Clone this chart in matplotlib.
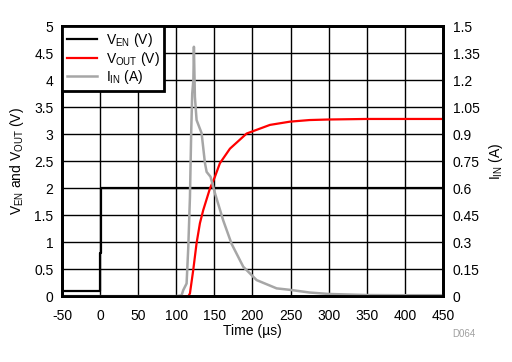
import numpy as np
import matplotlib.pyplot as plt

plt.rcParams['font.family'] = ['Liberation Sans', 'DejaVu Sans']
plt.rcParams['mathtext.fontset'] = 'custom'
plt.rcParams['mathtext.rm'] = 'Liberation Sans'
plt.rcParams['axes.unicode_minus'] = False

# V_EN (V)
t_en = [-50, 0, 0, 1, 1, 450]
v_en = [0.1, 0.1, 0.8, 0.8, 2.0, 2.0]

# V_OUT (V)
t_out = [-50, 0, 50, 100, 116, 118, 122.3, 126.7, 131.1, 135.4, 144.2, 150.8, 157.3,
         170.5, 192.4, 223, 249.2, 275, 300, 350, 400, 450]
v_out = [0.0, 0.0, 0.0, 0.0, 0.0, 0.05, 0.48, 0.98, 1.35, 1.59, 1.99, 2.21, 2.46,
         2.73, 3.01, 3.17, 3.23, 3.26, 3.27, 3.28, 3.28, 3.28]

# I_IN (A)
t_in = [-50, 0, 50, 100, 107, 109.2, 113.6, 115.8, 118, 119.7, 121, 122.5, 123.2, 124.5,
        126.7, 133.3, 137.7, 139.9, 145, 150.8, 161.7, 172.7, 188, 205.5, 231.8,
        249, 275, 300, 350, 400, 450]
i_in = [0.0, 0.0, 0.0, 0.0, 0.004, 0.033, 0.07, 0.27, 0.55, 0.92, 1.126, 1.2, 1.385, 1.107,
        0.978, 0.905, 0.739, 0.69, 0.663, 0.572, 0.42, 0.29, 0.163, 0.089, 0.043,
        0.035, 0.02, 0.012, 0.006, 0.005, 0.005]

x_ticks = ['-50', '0', '50', '100', '150', '200', '250', '300', '350', '400', '450']
y_ticks = ['0', '0.5', '1', '1.5', '2', '2.5', '3', '3.5', '4', '4.5', '5']
y2_ticks = ['0', '0.15', '0.3', '0.45', '0.6', '0.75', '0.9', '1.05', '1.2', '1.35', '1.5']

fig = plt.figure(figsize=(5.12, 3.62), dpi=100)
ax = fig.add_axes([0.121, 0.182, 0.744, 0.746])
ax2 = ax.twinx()

ax2.plot(t_in, i_in, color='#a6a6a6', lw=1.8, zorder=2)
ax.plot(t_en, v_en, color='black', lw=1.6, label=r'V$_{\mathregular{EN}}$ (V)', zorder=4)
ax.plot(t_out, v_out, color='#ff0000', lw=1.6, label=r'V$_{\mathregular{OUT}}$ (V)', zorder=4)
ax.plot([], [], color='#a6a6a6', lw=1.8, label=r'I$_{\mathregular{IN}}$ (A)')

ax.set_xlim(-50, 450)
ax.set_ylim(0, 5)
ax2.set_ylim(0, 1.5)
ax.set_xticks(np.arange(-50, 451, 50))
ax.set_xticklabels(x_ticks)
ax.set_yticks(np.arange(0, 5.01, 0.5))
ax.set_yticklabels(y_ticks)
ax2.set_yticks(np.arange(0, 1.51, 0.15))
ax2.set_yticklabels(y2_ticks)
ax.grid(color='black', lw=1)
ax.set_axisbelow(True)
ax.tick_params(axis='x', length=0, labelsize=10, pad=9)
ax.tick_params(axis='y', length=0, labelsize=10, pad=6)
ax2.tick_params(length=0, labelsize=10, pad=7)
for a in (ax, ax2):
    for s in a.spines.values():
        s.set_linewidth(2)

ax.set_xlabel('Time (µs)', fontsize=10, labelpad=1)
ax.set_ylabel(r'V$_{\mathregular{EN}}$ and V$_{\mathregular{OUT}}$ (V)', fontsize=10, labelpad=6)
ax2.set_ylabel(r'I$_{\mathregular{IN}}$ (A)', fontsize=10, rotation=90, labelpad=5)

leg = ax2.legend(*ax.get_legend_handles_labels(), loc='upper left', fontsize=10,
                 fancybox=False, framealpha=1, borderaxespad=0, handlelength=2.2,
                 borderpad=0.35, labelspacing=0.05, handletextpad=0.6)
leg.get_frame().set_edgecolor('black')
leg.get_frame().set_linewidth(2)

fig.text(0.883, 0.068, 'D064', fontsize=7, color='#a0a0a0')

fig.savefig('out.png', dpi=100)
